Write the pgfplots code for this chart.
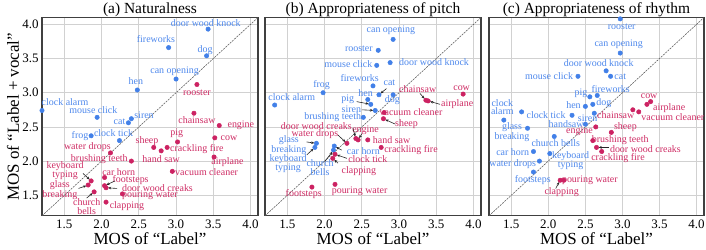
\documentclass[border=0pt]{standalone}
\usepackage{pgfplots}
\pgfplotsset{compat=1.18}
\usepackage{fontspec}
\setmainfont{Liberation Serif}
\usetikzlibrary{arrows.meta}
\definecolor{pb}{RGB}{66,128,232}
\definecolor{tb}{RGB}{78,136,236}
\definecolor{pr}{RGB}{204,34,98}
\definecolor{tr}{RGB}{206,44,100}
\newcommand\B[3]{\node[lb] at (axis cs:#1,#2) {#3};}
\newcommand\R[3]{\node[lr] at (axis cs:#1,#2) {#3};}
\newcommand\A[4]{\draw[arr] (axis cs:#1,#2) -- (axis cs:#3,#4);}
\tikzset{
  lb/.style={font=\fontsize{10}{9}\selectfont, text=tb, inner sep=0pt, align=center},
  lr/.style={font=\fontsize{10}{9}\selectfont, text=tr, inner sep=0pt, align=center},
  arr/.style={-{Stealth[length=3.2bp,width=2.6bp]}, draw=black!85, line width=0.6bp, shorten >=2bp},
}
\pgfplotsset{
  panel/.style={
    scale only axis, width=216bp, height=198.3bp,
    xmin=1.2, xmax=4.1, ymin=1.2, ymax=4.1,
    xtick={1.5,2.0,2.5,3.0,3.5,4.0}, ytick={1.5,2.0,2.5,3.0,3.5,4.0},
    xticklabels={1.5,2.0,2.5,3.0,3.5,4.0},
    yticklabels={},
    grid=major, major grid style={draw=black!18, line width=0.7bp},
    axis line style={draw=black!75, line width=1.1bp},
    major tick length=0pt,
    tick label style={font=\fontsize{13}{15}\selectfont},
    xticklabel style={yshift=-1bp},
    xlabel={MOS of “Label”},
    xlabel style={font=\fontsize{17}{20}\selectfont, at={(axis description cs:0.5,-0.117)}, anchor=center},
    title style={font=\fontsize{15.5}{18}\selectfont, at={(axis description cs:0.5,0.988)}, anchor=base},
    clip=false,
    anchor=south west,
  },
  diag/.style={draw=black!65, line width=0.55bp, dash pattern=on 2bp off 1bp},
  bdot/.style={only marks, mark=*, mark size=2.2bp, color=pb, line width=0.5bp},
  rdot/.style={only marks, mark=*, mark size=2.2bp, color=pr, line width=0.5bp},
}
\begin{document}
\begin{tikzpicture}
\useasboundingbox (-42bp,-34.2bp) rectangle (664bp,215.8bp);
% ---------------- (a) Naturalness ----------------
\begin{axis}[panel, at={(0bp,0bp)}, title={(a) Naturalness},
  ylabel={MOS of “Label + vocal”}, yticklabels={1.5,2.0,2.5,3.0,3.5,4.0},
  ylabel style={font=\fontsize{17}{20}\selectfont, at={(axis description cs:-0.134,0.5)}, anchor=center}]
\addplot[diag] coordinates {(1.2,1.2) (4.1,4.1)};
\addplot[bdot] table {
x y
3.43 3.93
2.90 3.66
3.41 3.54
3.00 3.20
2.48 3.04
1.20 2.74
1.94 2.64
2.40 2.62
2.36 2.56
1.86 2.37
2.24 2.30
};
\addplot[rdot] table {
x y
3.28 3.12
3.24 2.70
3.58 2.52
3.52 2.34
3.02 2.28
2.70 2.20
2.88 2.20
2.80 2.15
2.12 2.12
2.40 2.00
3.51 2.06
2.95 1.85
2.04 1.76
1.86 1.71
1.82 1.65
2.04 1.64
2.06 1.61
1.90 1.55
2.28 1.52
2.06 1.40
};
\B{3.40}{4.02}{door wood knock}
\B{2.73}{3.78}{fireworks}
\B{3.39}{3.63}{dog}
\B{2.98}{3.32}{can opening}
\B{2.46}{3.17}{hen}
\B{1.51}{2.86}{clock alarm}
\B{1.89}{2.74}{mouse click}
\B{2.57}{2.67}{siren}
\B{2.24}{2.57}{cat}
\B{1.71}{2.37}{frog}
\B{2.16}{2.41}{clock tick}
\R{3.28}{3.00}{rooster}
\R{3.28}{2.60}{chainsaw}
\R{3.87}{2.52}{engine}
\R{3.71}{2.33}{cow}
\R{3.01}{2.41}{pig}
\R{2.61}{2.29}{sheep}
\R{3.28}{2.17}{crackling fire}
\R{2.80}{2.03}{hand saw}
\R{1.81}{2.20}{water drops}
\R{1.97}{2.03}{brushing teeth}
\R{3.69}{1.98}{airplane}
\R{3.41}{1.84}{vacuum cleaner}
\R{2.23}{1.84}{car horn}
\R{1.51}{1.86}{keyboard\\typing}
\R{1.44}{1.58}{glass\\breaking}
\R{2.39}{1.72}{footsteps}
\R{2.75}{1.60}{door wood creaks}
\R{1.80}{1.33}{church\\bells}
\R{2.65}{1.50}{pouring water}
\R{2.34}{1.34}{clapping}
\A{1.75}{1.82}{1.86}{1.71}
\A{1.69}{1.60}{1.82}{1.65}
\A{1.80}{1.46}{1.90}{1.55}
\A{2.18}{1.71}{2.04}{1.64}
\A{2.21}{1.60}{2.06}{1.61}
\end{axis}
% ---------------- (b) Appropriateness of pitch ----------------
\begin{axis}[panel, at={(223bp,0bp)}, title={(b) Appropriateness of pitch}]
\addplot[diag] coordinates {(1.2,1.2) (4.1,4.1)};
\addplot[bdot] table {
x y
2.92 3.78
2.72 3.62
2.70 3.40
2.88 3.44
2.65 3.10
1.98 3.00
1.33 2.82
2.73 2.97
2.58 2.90
2.92 2.97
2.62 2.83
2.68 2.74
2.52 2.64
1.89 2.26
1.87 2.20
2.13 2.22
2.12 2.16
};
\addplot[rdot] table {
x y
3.36 2.89
3.39 2.88
3.86 2.98
2.80 2.71
2.79 2.62
2.42 2.33
2.45 2.31
2.30 2.26
2.58 2.31
2.76 2.20
2.14 2.10
2.11 2.04
1.83 1.62
2.14 1.66
};
\B{2.89}{3.92}{can opening}
\B{2.46}{3.64}{rooster}
\B{2.32}{3.42}{mouse click}
\B{3.47}{3.45}{door wood knock}
\B{2.47}{3.22}{fireworks}
\B{1.96}{3.11}{frog}
\B{1.56}{2.94}{clock alarm}
\B{2.87}{3.14}{cat}
\B{2.55}{2.99}{hen}
\B{2.91}{2.89}{dog}
\B{2.31}{2.90}{pig}
\B{2.36}{2.76}{siren}
\B{2.11}{2.65}{brushing teeth}
\B{1.52}{2.24}{glass\\breaking}
\B{1.51}{1.97}{keyboard\\typing}
\B{2.52}{2.15}{car horn}
\B{1.94}{1.90}{church\\bells}
\R{3.25}{3.06}{chainsaw}
\R{3.78}{2.83}{airplane}
\R{3.84}{3.07}{cow}
\R{3.16}{2.72}{vacuum cleaner}
\R{3.10}{2.54}{sheep}
\R{1.89}{2.51}{door wood creaks}
\R{2.55}{2.45}{engine}
\R{1.87}{2.40}{water drops}
\R{2.90}{2.31}{hand saw}
\R{3.16}{2.16}{crackling fire}
\R{2.58}{2.03}{clock tick}
\R{2.46}{1.86}{clapping}
\R{1.72}{1.52}{footsteps}
\R{2.47}{1.56}{pouring water}
\A{2.83}{3.06}{2.73}{2.97}
\A{2.43}{2.87}{2.62}{2.83}
\A{2.50}{2.75}{2.68}{2.74}
\A{3.28}{2.99}{3.36}{2.89}
\A{3.55}{2.83}{3.39}{2.88}
\A{2.95}{2.54}{2.79}{2.62}
\A{2.38}{2.48}{2.42}{2.33}
\A{2.50}{2.40}{2.45}{2.31}
\A{2.18}{2.38}{2.30}{2.26}
\A{1.76}{2.28}{1.89}{2.26}
\A{1.76}{2.09}{1.87}{2.20}
\A{2.23}{2.16}{2.13}{2.22}
\A{2.00}{1.99}{2.12}{2.16}
\A{2.30}{2.04}{2.14}{2.10}
\A{2.18}{1.97}{2.11}{2.04}
\end{axis}
% ---------------- (c) Appropriateness of rhythm ----------------
\begin{axis}[panel, at={(447bp,0bp)}, width=215bp, title={(c) Appropriateness of rhythm}]
\addplot[diag] coordinates {(1.2,1.2) (4.1,4.1)};
\addplot[bdot] table {
x y
2.97 4.08
2.97 3.58
2.78 3.32
2.84 3.24
2.40 3.24
2.66 2.96
2.56 2.94
2.60 2.83
2.50 2.80
1.64 2.72
1.40 2.60
2.32 2.67
2.62 2.70
2.50 2.54
1.72 2.48
2.08 2.36
1.80 2.14
2.02 2.11
1.88 2.00
1.80 1.84
};
\addplot[rdot] table {
x y
3.14 2.75
3.22 2.72
3.33 2.83
3.38 2.87
2.64 2.50
2.85 2.42
2.60 2.30
2.65 2.20
2.72 2.14
2.16 1.72
2.21 1.72
};
\B{2.99}{3.96}{rooster}
\B{2.95}{3.71}{can opening}
\B{2.68}{3.44}{door wood knock}
\B{2.97}{3.24}{cat}
\B{2.01}{3.24}{mouse click}
\B{2.84}{3.06}{fireworks}
\B{2.44}{2.99}{pig}
\B{2.75}{2.85}{dog}
\B{2.34}{2.82}{hen}
\B{1.38}{2.79}{clock\\alarm}
\B{1.97}{2.68}{clock tick}
\B{2.53}{2.63}{siren}
\B{2.24}{2.54}{handsaw}
\B{1.51}{2.43}{glass\\breaking}
\B{2.10}{2.26}{church bells}
\B{1.52}{2.13}{car horn}
\B{2.30}{2.00}{keyboard\\typing}
\B{1.52}{1.96}{water drops}
\B{1.79}{1.73}{footsteps}
\R{2.91}{2.67}{chainsaw}
\R{3.36}{2.95}{cow}
\R{3.63}{2.78}{airplane}
\R{3.68}{2.65}{vacuum cleaner}
\R{2.42}{2.43}{engine}
\R{3.04}{2.49}{sheep}
\R{2.97}{2.31}{brushing teeth}
\R{3.31}{2.18}{door wood creaks}
\R{2.94}{2.05}{crackling fire}
\R{2.56}{1.72}{pouring water}
\R{2.18}{1.54}{clapping}
\A{2.82}{2.20}{2.65}{2.20}
\A{2.10}{1.60}{2.16}{1.72}
\end{axis}
\end{tikzpicture}
\end{document}
